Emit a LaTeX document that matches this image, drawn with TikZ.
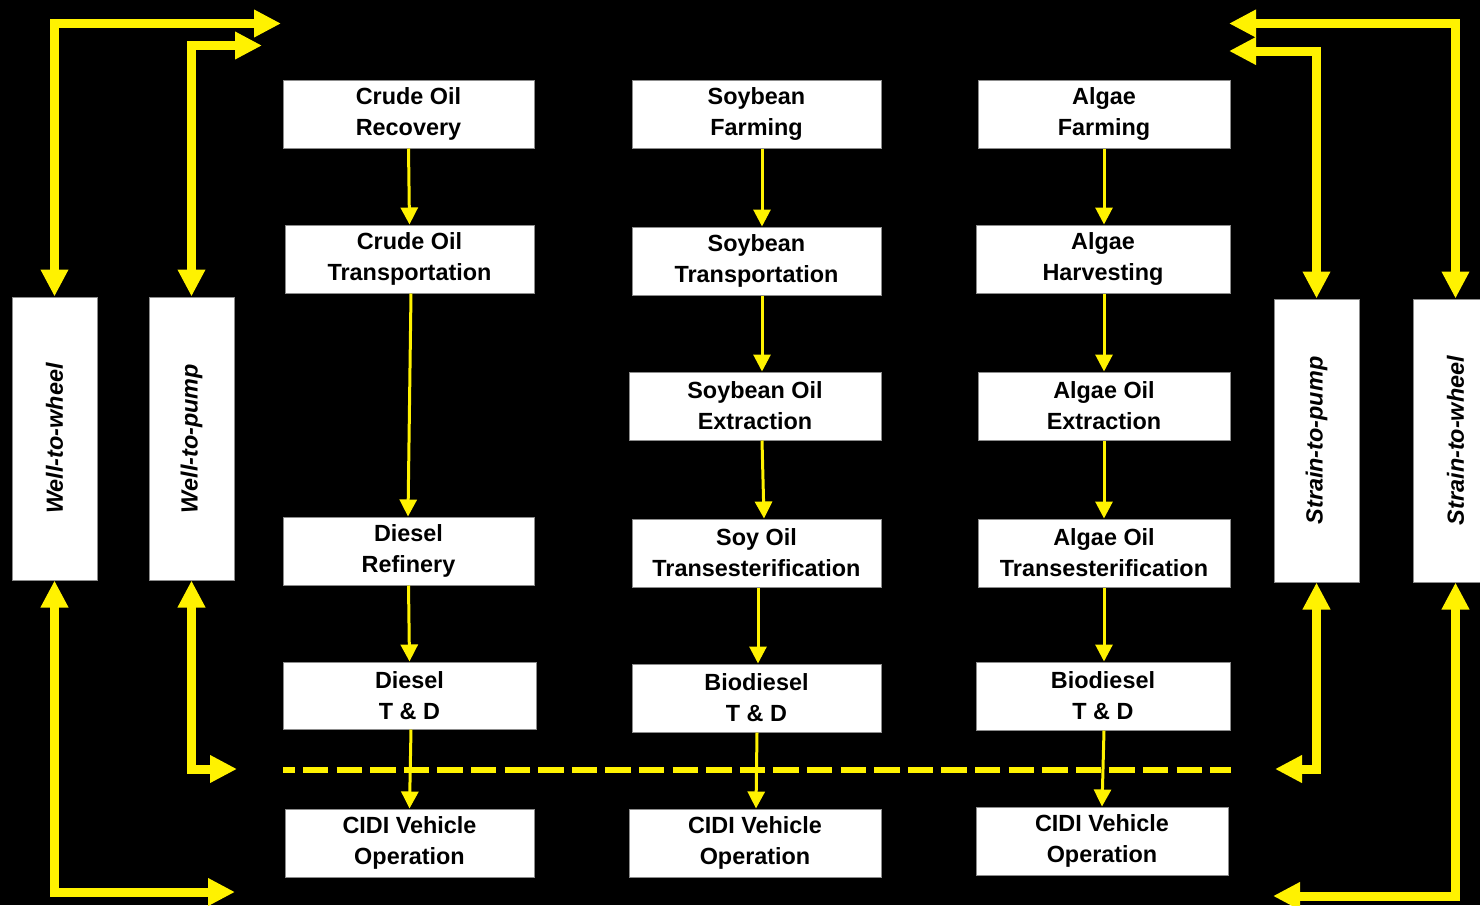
\documentclass[tikz,border=0pt]{standalone}
\usepackage{fontspec}
\setmainfont{Liberation Sans}
\usetikzlibrary{arrows.meta}
\begin{document}
\begin{tikzpicture}[x=1pt,y=-1pt,
  box/.style={draw=black!45, line width=1pt, fill=white, inner sep=0pt, align=center,
    minimum height=68pt, font=\fontsize{23.4}{31}\selectfont\bfseries},
  sidebox/.style={draw=black!45, line width=1pt, fill=white, inner sep=0pt,
    minimum width=85pt, minimum height=283pt},
  sidelabel/.style={rotate=90, inner sep=0pt, font=\fontsize{23.4}{27}\selectfont\bfseries\itshape},
  bigarrow/.style={draw=yellow, line width=9pt, line join=miter,
    {Triangle[length=27pt,width=26pt]}-{Triangle[length=27pt,width=26pt]}},
  flow/.style={draw=yellow, line width=3pt, -{Triangle[length=17pt,width=17pt]}},
  sep/.style={draw=yellow, line width=6pt, dash pattern=on 25.3pt off 8.3pt, dash phase=13.6pt}
]
\clip (0,0) rectangle (1480,905);
\fill[black] (0,0) rectangle (1480,905);

% side boxes
\node[sidebox] (wtw) at (54.5,438.5) {};
\node[sidebox] (wtp) at (191.5,438.5) {};
\node[sidebox] (stp) at (1316.5,440.5) {};
\node[sidebox] (stw) at (1455.5,440.5) {};
\node[sidelabel] (wtwl) at (wtw.center) {Well-to-wheel};
\node[sidelabel] (wtpl) at (wtp.center) {Well-to-pump};
\node[sidelabel] (stpl) at (stp.center) {Strain-to-pump};
\node[sidelabel] (stwl) at (stw.center) {Strain-to-wheel};

% column 1
\node[box, minimum width=251pt] (b1) at (408.5,114) {Crude Oil\\Recovery};
\node[box, minimum width=249pt] (b2) at (409.5,259) {Crude Oil\\Transportation};
\node[box, minimum width=251pt] (b3) at (408.5,551) {Diesel\\Refinery};
\node[box, minimum width=253pt, minimum height=67pt] (b4) at (409.5,695.5) {Diesel\\T \& D};
\node[box, minimum width=249pt] (b5) at (409.5,843) {CIDI Vehicle\\Operation};

% column 2
\node[box, minimum width=249pt] (s1) at (756.5,114) {Soybean\\Farming};
\node[box, minimum width=249pt] (s2) at (756.5,261) {Soybean\\Transportation};
\node[box, minimum width=252pt] (s3) at (755,406) {Soybean Oil\\Extraction};
\node[box, minimum width=249pt] (s4) at (756.5,553) {Soy Oil\\Transesterification};
\node[box, minimum width=249pt] (s5) at (756.5,698) {Biodiesel\\T \& D};
\node[box, minimum width=252pt] (s6) at (755,843) {CIDI Vehicle\\Operation};

% column 3
\node[box, minimum width=252pt] (a1) at (1104,114) {Algae\\Farming};
\node[box, minimum width=254pt] (a2) at (1103,259) {Algae\\Harvesting};
\node[box, minimum width=252pt] (a3) at (1104,406) {Algae Oil\\Extraction};
\node[box, minimum width=252pt] (a4) at (1104,553) {Algae Oil\\Transesterification};
\node[box, minimum width=254pt] (a5) at (1103,696) {Biodiesel\\T \& D};
\node[box, minimum width=252pt] (a6) at (1102,841) {CIDI Vehicle\\Operation};

% dashed separator
\coordinate (d1) at (283,770);
\coordinate (d2) at (1231,770);
\draw[sep] (d1) -- (d2);

% flow arrows
\draw[flow] (b1.south) -- (b2.north);
\draw[flow] ([xshift=1.5pt]b2.south) -- ([xshift=-0.5pt]b3.north);
\draw[flow] (b3.south) -- (b4.north);
\draw[flow] ([xshift=1.5pt]b4.south) -- (b5.north);
\draw[flow] ([xshift=5.5pt]s1.south) -- ([xshift=5.5pt]s2.north);
\draw[flow] ([xshift=5.5pt]s2.south) -- ([xshift=7pt]s3.north);
\draw[flow] ([xshift=7pt]s3.south) -- ([xshift=7.5pt]s4.north);
\draw[flow] ([xshift=1.5pt]s4.south) -- ([xshift=1.5pt]s5.north);
\draw[flow] ([xshift=0.5pt]s5.south) -- ([xshift=1pt]s6.north);
\draw[flow] (a1.south) -- ([xshift=1pt]a2.north);
\draw[flow] ([xshift=1pt]a2.south) -- (a3.north);
\draw[flow] (a3.south) -- (a4.north);
\draw[flow] (a4.south) -- ([xshift=1pt]a5.north);
\draw[flow] ([xshift=1pt]a5.south) -- (a6.north);

% big boundary arrows
\coordinate (lt1) at (281,23.5);
\coordinate (lt2) at (262,45.5);
\coordinate (lb1) at (237,769);
\coordinate (lb2) at (235,892);
\coordinate (rt1) at (1229,23.5);
\coordinate (rt2) at (1229,51);
\coordinate (rb1) at (1275,769);
\coordinate (rb2) at (1273,896);
\draw[bigarrow] (lt1) -| (wtw.north);
\draw[bigarrow] (lt2) -| (wtp.north);
\draw[bigarrow] (wtp.south) |- (lb1);
\draw[bigarrow] (wtw.south) |- (lb2);
\draw[bigarrow] (rt1) -| (stw.north);
\draw[bigarrow] (rt2) -| (stp.north);
\draw[bigarrow] (stp.south) |- (rb1);
\draw[bigarrow] (stw.south) |- (rb2);
\end{tikzpicture}
\end{document}
